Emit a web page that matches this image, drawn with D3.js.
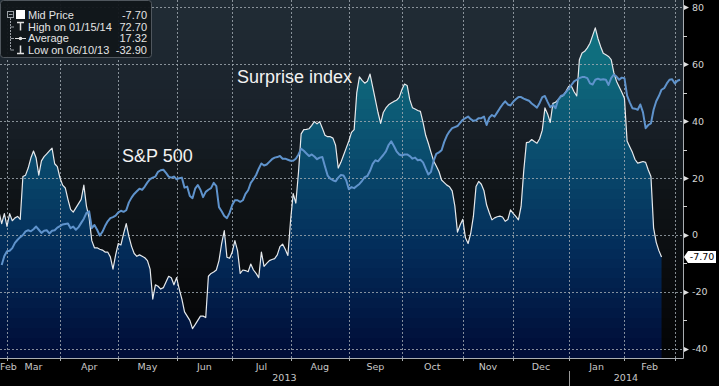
<!DOCTYPE html>
<html>
<head>
<meta charset="utf-8">
<script src="https://cdn.jsdelivr.net/npm/d3@7"></script>
<style>
  body { margin: 0; background: #000; }
  svg { display: block; }
</style>
</head>
<body>
<svg id="chart" width="719" height="386"></svg>
<script>
// x is trading-day index, 0 = 1 Mar 2013
const surpriseFirstDay = -3;
const surpriseValues = [
  8, 4, 7.5, 3, 7.5, 5, 6, 6.5, 5.5, 20.5,
  21, 23.5, 27, 29.5, 27, 21, 26, 27.5, 28.5, 29.5,
  30.5, 25, 24, 20, 17.5, 16.5, 12.5, 9, 8, 9.5,
  11, 12.5, 17.5, 10, 6, -2, -4.5, -4.5, -5, -5.3,
  -6, -6, -7.7, -12, -7, -3, -3.5, 0.5, 4, -0.5,
  -4, -6.5, -7.5, -7, -7.5, -8, -9, -12, -22.5, -17.5,
  -18, -19, -18.5, -16.5, -14.5, -15, -17.5, -15, -19, -22.5,
  -27, -28.5, -30, -32.9, -31.5, -30, -28.5, -28.5, -29, -14.5,
  -13.5, -13, -12.3, -9, -3, 1.5, -7.8, -8.2, -6, -2,
  -5.5, -13.5, -12.3, -12.5, -12.9, -10.2, -12.3, -13.5, -15, -6,
  -11, -10, -9, -8.6, -8.3, -7, -4.1, -3.2, -5, -7.2,
  5, 14.5, 11.2, 22, 35.5, 37, 37.1, 37.3, 38.5, 39.8,
  39, 39.8, 37.5, 35, 34.5, 34.5, 34, 31.5, 23.5, 25.5,
  28, 30.5, 33, 36, 37, 50, 55.5, 54.3, 53.3, 54,
  56.5, 52, 47.5, 43, 39.2, 43, 44.6, 45.7, 46.3, 46.9,
  47.3, 48.3, 51, 53, 52.5, 47.5, 44.7, 44.2, 43.7, 43.4,
  39.5, 35, 32.2, 29, 26, 24.2, 22.3, 19.3, 18.4, 17.5,
  16.9, 15.5, 10.2, 1, 3.5, 5.5, -1, -3, 0.6, 6.5,
  17, 18.8, 17.8, 15.5, 10.5, 7.8, 5.3, 6, 6.4, 6.6,
  6.3, 4.8, 5.4, 8.8, 7.6, 6.5, 5.3, 10, 22.5, 32.4,
  32.6, 33.5, 32.8, 32.2, 33.8, 36.8, 44.6, 42.5, 39.5, 46.2,
  46.6, 47.5, 48.5, 49, 50.5, 52.2, 52.2, 50.3, 48.8, 61.5,
  63.9, 64.5, 65.7, 67.3, 70, 72.7, 69, 66.2, 63.8, 63.3,
  62.7, 61.6, 57, 54, 52, 50.1, 48, 33, 31, 29,
  26.5, 25.2, 25.5, 25.8, 25.5, 22.8, 20.5, 2.5, -2.6, -5.5,
  -7.7
];

const spxFirstDay = -2;
const spxValues = [
  1490, 1507, 1516, 1517, 1522, 1532, 1538, 1543, 1547, 1554,
  1556, 1554, 1558, 1563, 1557, 1551, 1555, 1556, 1550, 1555,
  1556, 1561, 1564, 1567, 1568, 1569, 1560, 1563, 1557, 1562,
  1570, 1578, 1589, 1592, 1560, 1566, 1557, 1546, 1553, 1564,
  1573, 1579, 1581, 1584, 1590, 1593, 1591, 1594, 1609, 1618,
  1625, 1630, 1635, 1633, 1639, 1647, 1653, 1656, 1658, 1667,
  1670, 1671, 1665, 1658, 1656, 1658, 1653, 1655, 1656, 1637,
  1639, 1621, 1617, 1635, 1642, 1633, 1619, 1629, 1633, 1636,
  1646, 1640, 1600, 1592, 1583, 1579, 1589, 1604, 1613, 1613,
  1610, 1613, 1625, 1632, 1646, 1653, 1661, 1673, 1683, 1679,
  1681, 1686, 1691, 1694, 1695, 1697, 1692, 1692, 1690, 1688,
  1688, 1692, 1700, 1711, 1707, 1702, 1697, 1700, 1696, 1691,
  1694, 1695, 1677, 1660, 1654, 1651, 1649, 1656, 1661, 1660,
  1651, 1634, 1638, 1636, 1640, 1644, 1650, 1657, 1659, 1669,
  1682, 1689, 1687, 1693, 1699, 1706, 1718, 1725, 1716, 1706,
  1700, 1698, 1700, 1700, 1697, 1692, 1694, 1689, 1690, 1685,
  1673, 1662, 1667, 1688, 1701, 1704, 1708, 1724, 1736, 1744,
  1750, 1752, 1754, 1760, 1766, 1769, 1772, 1767, 1764, 1765,
  1769, 1769, 1772, 1756, 1770, 1775, 1772, 1780, 1788, 1795,
  1801, 1795, 1793, 1800, 1805, 1809, 1809, 1806, 1804, 1802,
  1797, 1793, 1789, 1798, 1809, 1811, 1800, 1790, 1794, 1788,
  1804, 1811, 1813, 1819, 1825, 1832, 1839, 1842, 1845, 1847,
  1847, 1845, 1835, 1833, 1842, 1844, 1842, 1843, 1842, 1832,
  1845, 1852, 1848, 1842, 1846, 1845, 1812, 1799, 1788, 1787,
  1785, 1795, 1780, 1750, 1756, 1759, 1785, 1801, 1811, 1823,
  1826, 1835, 1842, 1843, 1835, 1840, 1842
];

// month starts in trading days, Feb 2013 .. Mar 2014
const monthStarts = [-19, 0, 20, 42, 64, 85, 107, 129, 149, 172, 191, 212, 233, 252];
const monthLabels = ['Feb', 'Mar', 'Apr', 'May', 'Jun', 'Jul', 'Aug', 'Sep', 'Oct', 'Nov', 'Dec', 'Jan', 'Feb'];
const yearStarts = [-200, 212];
const yearLabels = ['2013', '2014'];

const yTicks = [80, 60, 40, 20, 0, -20, -40];
const yMinorTicks = [70, 50, 30, 10, -10, -30];

const legendLabels = ['Mid Price', 'High on 01/15/14', 'Average', 'Low on 06/10/13'];
const legendValues = ['-7.70', '72.70', '17.32', '-32.90'];
const lastValue = -7.70;

const svg = d3.select('#chart');
const plotW = 683;
const plotH = 358;

const x = d3.scaleLinear().domain([-2.64, 255.1]).range([0, plotW]);
const y = d3.scaleLinear().domain([-43.2, 82.5]).range([plotH, 0]);
const ySpx = d3.scaleLinear().domain([1313.3, 1993.5]).range([plotH, 0]);

const surprise = surpriseValues.map((v, i) => ({ day: surpriseFirstDay + i, value: v }));
const spx = spxValues.map((v, i) => ({ day: spxFirstDay + i, value: v }));

const defs = svg.append('defs');

// bloomberg style stepped gradients
function bandedGradient(id, colorAt, bands) {
  const g = defs.append('linearGradient').attr('id', id)
    .attr('gradientUnits', 'userSpaceOnUse')
    .attr('x1', 0).attr('x2', 0).attr('y1', 0).attr('y2', plotH);
  d3.range(bands).forEach(k => {
    const c = colorAt((k + 0.5) / bands);
    g.append('stop').attr('offset', k / bands).attr('stop-color', c);
    g.append('stop').attr('offset', (k + 1) / bands).attr('stop-color', c);
  });
}

const bgColor = d3.scaleLinear()
  .domain([0, 0.3, 0.55, 0.8, 1])
  .range(['#212c36', '#1a222b', '#0f1417', '#090b0d', '#030404']);
const areaColor = d3.scaleLinear()
  .domain([0, 0.17, 0.42, 0.7, 1])
  .range(['#137b87', '#0f6c7d', '#0a4e6f', '#032c59', '#000c36']);

bandedGradient('bgGrad', bgColor, 36);
bandedGradient('areaGrad', areaColor, 36);

defs.append('clipPath').attr('id', 'plotClip')
  .append('rect').attr('width', plotW).attr('height', plotH);

svg.append('rect')
  .attr('width', plotW).attr('height', plotH)
  .attr('fill', 'url(#bgGrad)');

const plot = svg.append('g').attr('clip-path', 'url(#plotClip)');

const area = d3.area()
  .x(d => x(d.day))
  .y0(plotH)
  .y1(d => y(d.value));

plot.append('path')
  .datum(surprise)
  .attr('d', area)
  .attr('fill', 'url(#areaGrad)');

// grid, dotted
const grid = svg.append('g')
  .attr('stroke', '#a4acb4')
  .attr('stroke-width', 1)
  .attr('stroke-opacity', 0.8)
  .attr('stroke-dasharray', '2,2');

grid.selectAll('line.hgrid')
  .data(yTicks)
  .enter().append('line')
  .attr('class', 'hgrid')
  .attr('x1', 0).attr('x2', plotW)
  .attr('y1', d => Math.round(y(d)) + 0.5)
  .attr('y2', d => Math.round(y(d)) + 0.5);

grid.selectAll('line.vgrid')
  .data(monthStarts.filter(d => x(d) > 0 && x(d) < plotW))
  .enter().append('line')
  .attr('class', 'vgrid')
  .attr('y1', 0).attr('y2', plotH)
  .attr('x1', d => Math.round(x(d)) + 0.5)
  .attr('x2', d => Math.round(x(d)) + 0.5);

const line = d3.line().x(d => x(d.day)).y(d => y(d.value));
const spxLine = d3.line().x(d => x(d.day)).y(d => ySpx(d.value));

const lines = svg.append('g').attr('clip-path', 'url(#plotClip)');
lines.append('path')
  .datum(surprise)
  .attr('d', line)
  .attr('fill', 'none')
  .attr('stroke', '#e6e9ec')
  .attr('stroke-width', 1.2)
  .attr('stroke-linejoin', 'round');

lines.append('path')
  .datum(spx)
  .attr('d', spxLine)
  .attr('fill', 'none')
  .attr('stroke', '#5f93cc')
  .attr('stroke-width', 2)
  .attr('stroke-linejoin', 'round');

// annotations
svg.append('text')
  .attr('x', 122).attr('y', 162)
  .attr('font-family', 'Liberation Sans, Arial, sans-serif')
  .attr('font-size', 18)
  .attr('fill', '#f2f2f2')
  .text('S&P 500');

svg.append('text')
  .attr('x', 237).attr('y', 83)
  .attr('font-family', 'Liberation Sans, Arial, sans-serif')
  .attr('font-size', 18)
  .attr('fill', '#f2f2f2')
  .text('Surprise index');

// axes frame
const axisColor = '#a9adb1';
svg.append('line')
  .attr('x1', plotW + 0.5).attr('x2', plotW + 0.5)
  .attr('y1', 0).attr('y2', plotH + 0.5)
  .attr('stroke', axisColor);
svg.append('line')
  .attr('x1', 0).attr('x2', plotW + 0.5)
  .attr('y1', plotH + 0.5).attr('y2', plotH + 0.5)
  .attr('stroke', axisColor);

const axisFont = 'DejaVu Sans, Verdana, sans-serif';
const legendFont = 'Liberation Sans, Arial, sans-serif';

// right axis
const yAxis = svg.append('g');
yAxis.selectAll('.tri')
  .data(yTicks)
  .enter().append('path')
  .attr('d', d => {
    const py = Math.round(y(d)) + 0.5;
    return `M${plotW + 1},${py - 2.5}L${plotW + 6},${py}L${plotW + 1},${py + 2.5}Z`;
  })
  .attr('fill', '#e0e0e0');
yAxis.selectAll('.minor')
  .data(yMinorTicks)
  .enter().append('line')
  .attr('x1', plotW).attr('x2', plotW + 4)
  .attr('y1', d => Math.round(y(d)) + 0.5)
  .attr('y2', d => Math.round(y(d)) + 0.5)
  .attr('stroke', '#d0d0d0');
yAxis.selectAll('.lab')
  .data(yTicks)
  .enter().append('text')
  .attr('x', plotW + 9)
  .attr('y', d => y(d) + 3.5)
  .attr('font-family', axisFont)
  .attr('font-size', 9.5)
  .attr('fill', '#d4d4d4')
  .text(d => d);

// last value tag
const tagY = y(lastValue);
svg.append('path')
  .attr('d', `M${plotW + 1},${tagY}L${plotW + 5},${tagY - 6}H${plotW + 33}V${tagY + 6}H${plotW + 5}Z`)
  .attr('fill', '#ffffff');
svg.append('text')
  .attr('x', plotW + 19).attr('y', tagY + 3.5)
  .attr('text-anchor', 'middle')
  .attr('font-family', axisFont)
  .attr('font-size', 9.5)
  .attr('fill', '#000')
  .text(lastValue.toFixed(2));

// bottom axis
const xAxis = svg.append('g');
xAxis.selectAll('.tick')
  .data(monthStarts.filter(d => x(d) > 0 && x(d) < plotW))
  .enter().append('line')
  .attr('x1', d => Math.round(x(d)) + 0.5)
  .attr('x2', d => Math.round(x(d)) + 0.5)
  .attr('y1', plotH).attr('y2', plotH + 3)
  .attr('stroke', axisColor);

function monthCenter(i) {
  const a = Math.max(monthStarts[i], x.domain()[0]);
  const b = Math.min(monthStarts[i + 1], x.domain()[1]);
  return (x(a) + x(b)) / 2;
}

xAxis.selectAll('.mlab')
  .data(monthLabels)
  .enter().append('text')
  .attr('x', (d, i) => monthCenter(i) < 10 ? 0 : monthCenter(i))
  .attr('text-anchor', (d, i) => monthCenter(i) < 10 ? 'start' : 'middle')
  .attr('y', 370)
  .attr('font-family', axisFont)
  .attr('font-size', 9.5)
  .attr('fill', '#c8c8c8')
  .text(d => d);

xAxis.selectAll('.ylab')
  .data(yearLabels)
  .enter().append('text')
  .attr('x', (d, i) => {
    const a = Math.max(yearStarts[i], x.domain()[0]);
    const b = i + 1 < yearStarts.length ? yearStarts[i + 1] : x.domain()[1];
    return (x(a) + x(b)) / 2;
  })
  .attr('y', 381)
  .attr('text-anchor', 'middle')
  .attr('font-family', axisFont)
  .attr('font-size', 9.5)
  .attr('fill', '#c8c8c8')
  .text(d => d);

xAxis.selectAll('.ysep')
  .data(yearStarts.filter(d => x(d) > 0))
  .enter().append('line')
  .attr('x1', d => Math.round(x(d)) + 0.5)
  .attr('x2', d => Math.round(x(d)) + 0.5)
  .attr('y1', 371).attr('y2', 386)
  .attr('stroke', '#9a9a9a');

// legend
const legend = svg.append('g');
legend.append('rect')
  .attr('x', 0.5).attr('y', 0.5)
  .attr('width', 151).attr('height', 57)
  .attr('rx', 3)
  .attr('fill', '#11161a')
  .attr('fill-opacity', 0.95)
  .attr('stroke', '#50575e');

const rowY = [15, 26.5, 38, 49.5];
const treeColor = '#9aa0a6';
legend.append('rect')
  .attr('x', 7.5).attr('y', rowY[0] - 3.5)
  .attr('width', 6).attr('height', 6)
  .attr('fill', 'none').attr('stroke', treeColor);
legend.append('line')
  .attr('x1', 9).attr('x2', 12.5).attr('y1', rowY[0] - 0.5).attr('y2', rowY[0] - 0.5)
  .attr('stroke', treeColor);
legend.append('line')
  .attr('x1', 10.5).attr('x2', 10.5).attr('y1', rowY[0] + 3).attr('y2', rowY[3])
  .attr('stroke', treeColor).attr('stroke-dasharray', '2,1');
legend.selectAll('.branch')
  .data(rowY.slice(1))
  .enter().append('line')
  .attr('x1', 10.5).attr('x2', 14)
  .attr('y1', d => d + 0.5).attr('y2', d => d + 0.5)
  .attr('stroke', treeColor);

// icons
legend.append('rect')
  .attr('x', 16).attr('y', rowY[0] - 5)
  .attr('width', 9).attr('height', 9)
  .attr('fill', '#ffffff');
legend.append('path')
  .attr('d', `M17,${rowY[1] - 4}H24M20.5,${rowY[1] - 4}V${rowY[1] + 4}`)
  .attr('stroke', '#e0e0e0').attr('stroke-width', 1.5).attr('fill', 'none');
legend.append('line')
  .attr('x1', 15).attr('x2', 26).attr('y1', rowY[2] + 0.5).attr('y2', rowY[2] + 0.5)
  .attr('stroke', '#e0e0e0');
legend.append('circle')
  .attr('cx', 20.5).attr('cy', rowY[2] + 0.5).attr('r', 1.8)
  .attr('fill', '#e0e0e0');
legend.append('path')
  .attr('d', `M20.5,${rowY[3] - 4}V${rowY[3] + 4}M17,${rowY[3] + 4}H24`)
  .attr('stroke', '#e0e0e0').attr('stroke-width', 1.5).attr('fill', 'none');

legend.selectAll('.ltext')
  .data(legendLabels)
  .enter().append('text')
  .attr('x', 28)
  .attr('y', (d, i) => rowY[i] + 4)
  .attr('font-family', legendFont)
  .attr('font-size', 11)
  .attr('fill', '#e4e4e4')
  .text(d => d);

legend.selectAll('.lval')
  .data(legendValues)
  .enter().append('text')
  .attr('x', 147)
  .attr('y', (d, i) => rowY[i] + 4)
  .attr('text-anchor', 'end')
  .attr('font-family', legendFont)
  .attr('font-size', 11)
  .attr('fill', '#e4e4e4')
  .text(d => d);
</script>
</body>
</html>
